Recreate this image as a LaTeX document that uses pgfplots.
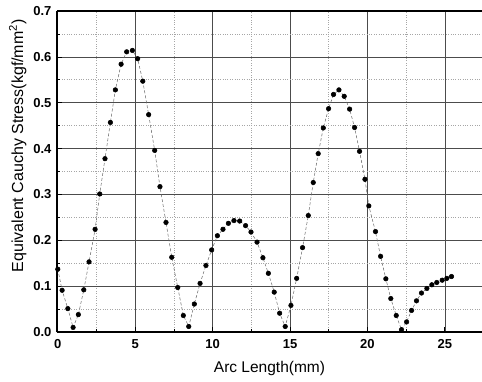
\documentclass[border=0pt]{standalone}
\usepackage{pgfplots}
\pgfplotsset{compat=1.18}
\usepackage{fontspec}
\setmainfont{Liberation Sans}
\begin{document}
\begin{tikzpicture}
\begin{axis}[
  at={(0,0)}, anchor=south west,
  scale only axis, width=425pt, height=321pt,
  xmin=-0.05, xmax=27.4, ymin=0, ymax=0.7,
  axis x line*=box, axis y line*=left,
  xtick={0,5,10,15,20,25}, minor xtick={2.5,7.5,12.5,17.5,22.5,27.5},
  ytick={0,0.1,...,0.7}, minor ytick={0.05,0.15,...,0.65},
  xtick pos=bottom, ytick pos=left,
  tick align=inside,
  major tick length=5pt, minor tick length=3pt,
  grid=both,
  major grid style={gray!60!black, line width=0.6pt},
  minor grid style={gray!70, dotted, line width=0.7pt},
  axis line style={black, line width=1.2pt},
  every tick/.style={black, line width=0.7pt},
  /pgf/number format/assume math mode=true,
  yticklabel style={/pgf/number format/.cd, fixed, fixed zerofill, precision=1, /tikz/.cd, font=\bfseries\fontsize{13}{13}\selectfont, xshift=-2pt},
  xticklabel style={font=\bfseries\fontsize{13}{13}\selectfont, yshift=-4pt},
  xlabel={Arc Length(mm)},
  ylabel={Equivalent Cauchy Stress(kgf/mm\textsuperscript{2})},
  xlabel style={font=\fontsize{15.5}{16}\selectfont, yshift=-6pt},
  ylabel style={font=\fontsize{16}{17}\selectfont, at={(ticklabel cs:0.58)}, anchor=near ticklabel, yshift=0pt},
  clip=false,
]
\addplot[gray!80!black, line width=0.5pt, densely dashed, mark=*, mark size=2.3pt, mark options={solid, fill=black, draw=black}] coordinates {
(0,0.137) (0.28,0.091) (0.65,0.051) (0.99,0.010) (1.33,0.038) (1.68,0.092)
(2.02,0.153) (2.41,0.224) (2.71,0.301) (3.05,0.378) (3.40,0.457) (3.72,0.528)
(4.09,0.584) (4.45,0.611) (4.82,0.614) (5.16,0.596) (5.49,0.547) (5.87,0.474)
(6.26,0.396) (6.60,0.317) (6.99,0.239) (7.36,0.163) (7.75,0.097) (8.11,0.036)
(8.46,0.012) (8.82,0.061) (9.19,0.106) (9.57,0.145) (9.94,0.179) (10.31,0.210)
(10.67,0.224) (11.02,0.237) (11.38,0.243) (11.75,0.242) (12.13,0.232) (12.48,0.218)
(12.87,0.196) (13.25,0.162) (13.60,0.128) (13.98,0.087) (14.33,0.041) (14.69,0.012)
(15.06,0.058) (15.43,0.117) (15.81,0.184) (16.18,0.254) (16.50,0.326) (16.82,0.389)
(17.15,0.445) (17.49,0.487) (17.81,0.518) (18.16,0.528) (18.50,0.514) (18.85,0.486)
(19.17,0.446) (19.49,0.394) (19.84,0.333) (20.09,0.275) (20.52,0.219) (20.85,0.165)
(21.19,0.116) (21.51,0.073) (21.86,0.036) (22.20,0.005) (22.53,0.022) (22.85,0.047)
(23.17,0.068) (23.49,0.085) (23.84,0.095) (24.16,0.103) (24.48,0.108) (24.83,0.113)
(25.13,0.117) (25.43,0.121)
};
\end{axis}
\pgfresetboundingbox
\path[use as bounding box] (-57pt,-49pt) rectangle (425pt,332pt);
\end{tikzpicture}
\end{document}
